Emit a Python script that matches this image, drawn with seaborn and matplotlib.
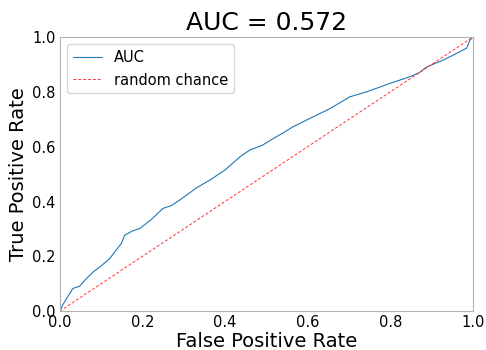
import matplotlib
matplotlib.use("Agg")
import matplotlib.pyplot as plt
import seaborn as sns
import pandas as pd

fpr = [0.0, 0.008, 0.018, 0.032, 0.048, 0.062, 0.081, 0.100, 0.121, 0.135, 0.149, 0.157,
       0.175, 0.194, 0.222, 0.250, 0.270, 0.290, 0.331, 0.363, 0.400, 0.436, 0.460,
       0.490, 0.517, 0.540, 0.565, 0.605, 0.654, 0.702, 0.742, 0.770, 0.799, 0.847,
       0.870, 0.888, 0.928, 0.969, 0.985, 0.993, 1.0]
tpr = [0.0, 0.025, 0.050, 0.083, 0.091, 0.115, 0.143, 0.165, 0.192, 0.220, 0.247, 0.277,
       0.292, 0.302, 0.335, 0.375, 0.385, 0.405, 0.450, 0.478, 0.515, 0.563, 0.588,
       0.605, 0.630, 0.650, 0.673, 0.703, 0.739, 0.782, 0.800, 0.815, 0.831, 0.855,
       0.870, 0.891, 0.916, 0.947, 0.960, 0.989, 1.0]
chance = [0.0, 1.0]
auc_value = 0.572

sns.set_style("white")
plt.rcParams["font.family"] = ["DejaVu Sans"]
plt.rcParams["axes.edgecolor"] = "0.7"
plt.rcParams["text.color"] = "black"
plt.rcParams["axes.labelcolor"] = "black"
plt.rcParams["xtick.color"] = "black"
plt.rcParams["ytick.color"] = "black"

fig = plt.figure(figsize=(4.86, 3.5), dpi=100)
ax = fig.add_axes([0.123, 0.111, 0.850, 0.783])

df = pd.DataFrame({"fpr": fpr, "tpr": tpr})
sns.lineplot(data=df, x="fpr", y="tpr", ax=ax, color="#1f77b4", linewidth=0.8,
             label="AUC", sort=False, estimator=None)
df2 = pd.DataFrame({"x": chance, "y": chance})
sns.lineplot(data=df2, x="x", y="y", ax=ax, color="#ff3333", linewidth=0.7,
             linestyle=(0, (3, 2)), label="random chance", estimator=None)

ax.set_xlim(0, 1)
ax.set_ylim(0, 1)
ax.set_title(f"AUC = {auc_value}", fontsize=18, pad=5)
ax.set_xlabel("False Positive Rate", fontsize=14, labelpad=1)
ax.set_ylabel("True Positive Rate", fontsize=14, labelpad=3)
ax.tick_params(axis="both", labelsize=10.5, length=2, color="0.7", labelcolor="black", pad=1)
ax.set_xticks([0, 0.2, 0.4, 0.6, 0.8, 1.0])
ax.set_yticks([0, 0.2, 0.4, 0.6, 0.8, 1.0])
ax.legend(loc="upper left", fontsize=10.5, handlelength=2, frameon=True)

fig.savefig("out.png", dpi=100)
